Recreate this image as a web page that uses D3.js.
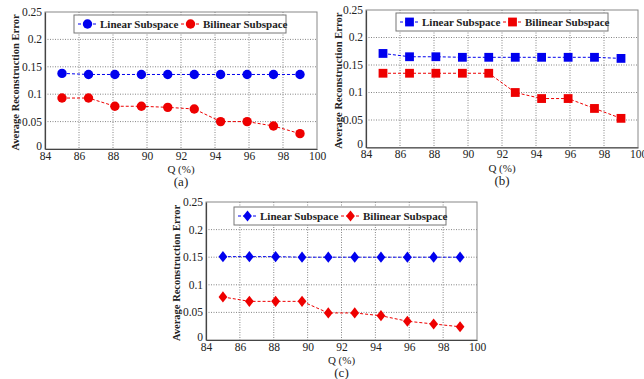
<!DOCTYPE html>
<html>
<head>
<meta charset="utf-8">
<script src="https://cdn.jsdelivr.net/npm/d3@7"></script>
<style>
  body { margin: 0; background: #fff; }
  svg { display: block; font-family: "Liberation Serif", "Times New Roman", serif; }
  text { font-family: "Liberation Serif", "Times New Roman", serif; fill: #222; }
</style>
</head>
<body>
<script>
// shared x values (Q %)
const qValues = [85, 86.56, 88.11, 89.67, 91.22, 92.78, 94.33, 95.89, 97.44, 99];
const xTicks = [84, 86, 88, 90, 92, 94, 96, 98, 100];
const yTicks = [0, 0.05, 0.1, 0.15, 0.2, 0.25];
const yTickLabels = ["0", "0.05", "0.1", "0.15", "0.2", "0.25"];
const seriesNames = ["Linear Subspace", "Bilinear Subspace"];

const linearA = [0.138, 0.136, 0.136, 0.136, 0.136, 0.136, 0.136, 0.136, 0.136, 0.136];
const bilinearA = [0.093, 0.093, 0.078, 0.078, 0.076, 0.073, 0.050, 0.050, 0.042, 0.028];

const linearB = [0.171, 0.165, 0.165, 0.164, 0.164, 0.164, 0.164, 0.164, 0.164, 0.162];
const bilinearB = [0.135, 0.135, 0.135, 0.135, 0.135, 0.100, 0.089, 0.089, 0.071, 0.053];

const linearC = [0.151, 0.151, 0.151, 0.150, 0.150, 0.150, 0.150, 0.150, 0.150, 0.150];
const bilinearC = [0.078, 0.070, 0.070, 0.070, 0.049, 0.049, 0.044, 0.034, 0.029, 0.024];

const W = 644, H = 379;
const FONT = '"Liberation Serif", "Times New Roman", serif';
const svg = d3.select('body').append('svg')
  .attr('width', W)
  .attr('height', H);

const panels = [
  {label: "(a)", left: 45, right: 317, top: 12, bottom: 149, ylabX: 15, shape: "circle", lin: linearA, bil: bilinearA, legX: 74, legY: 15},
  {label: "(b)", left: 366, right: 638, top: 10, bottom: 147.5, ylabX: 338, shape: "square", lin: linearB, bil: bilinearB, legX: 396, legY: 13},
  {label: "(c)", left: 206, right: 477, top: 202, bottom: 340, ylabX: 176, shape: "diamond", lin: linearC, bil: bilinearC, legX: 234, legY: 207}
];

function marker(g, shape, x, y, color) {
  if (shape === "circle") {
    g.append('circle').attr('cx', x).attr('cy', y).attr('r', 4.7).attr('fill', color);
  } else if (shape === "square") {
    g.append('rect').attr('x', x - 4.4).attr('y', y - 4.4).attr('width', 8.8).attr('height', 8.8).attr('fill', color);
  } else {
    g.append('path')
      .attr('d', `M${x},${y-5.6}L${x+4.4},${y}L${x},${y+5.6}L${x-4.4},${y}Z`)
      .attr('fill', color);
  }
}

panels.forEach(p => {
  const g = svg.append('g');
  const x = d3.scaleLinear().domain([84, 100]).range([p.left, p.right]);
  const y = d3.scaleLinear().domain([0, 0.25]).range([p.bottom, p.top]);

  // dotted grid
  g.selectAll('.vg').data(xTicks.slice(1, -1)).enter().append('line')
    .attr('x1', d => x(d)).attr('x2', d => x(d))
    .attr('y1', p.top).attr('y2', p.bottom)
    .attr('stroke', '#666').attr('stroke-width', 0.8).attr('stroke-dasharray', '1,1.5');
  g.selectAll('.hg').data(yTicks.slice(1, -1)).enter().append('line')
    .attr('x1', p.left).attr('x2', p.right)
    .attr('y1', d => y(d)).attr('y2', d => y(d))
    .attr('stroke', '#666').attr('stroke-width', 0.8).attr('stroke-dasharray', '1,1.5');

  // frame
  g.append('rect').attr('x', p.left).attr('y', p.top)
    .attr('width', p.right - p.left).attr('height', p.bottom - p.top)
    .attr('fill', 'none').attr('stroke', '#888').attr('stroke-width', 1);

  // axes
  const xAxis = g.append('g').attr('transform', `translate(0,${p.bottom})`)
    .call(d3.axisBottom(x).tickValues(xTicks).tickSize(0).tickPadding(4));
  const yAxis = g.append('g').attr('transform', `translate(${p.left},0)`)
    .call(d3.axisLeft(y).tickValues(yTicks).tickSize(0).tickPadding(3)
      .tickFormat((d, i) => yTickLabels[i]));
  [xAxis, yAxis].forEach(a => {
    a.attr('font-family', FONT);
    a.select('.domain').attr('stroke', '#444').attr('stroke-width', 1.2);
    a.selectAll('text').attr('font-size', 11.5).attr('fill', '#222').style('font-family', FONT);
  });
  xAxis.selectAll('text').attr('dy', '0.6em');
  yAxis.selectAll('text').attr('dy', d => d === 0 ? '0em' : '0.3em');

  // axis titles
  g.append('text').attr('x', (p.left + p.right) / 2).attr('y', p.bottom + 24)
    .attr('text-anchor', 'middle').attr('font-size', 11).style('font-family', FONT).text('Q (%)');
  g.append('text').attr('x', (p.left + p.right) / 2).attr('y', p.bottom + 37)
    .attr('text-anchor', 'middle').attr('font-size', 13).style('font-family', FONT).text(p.label);
  g.append('text')
    .attr('transform', `translate(${p.ylabX},${(p.top + p.bottom) / 2 + 2}) rotate(-90)`)
    .attr('text-anchor', 'middle').attr('dy', '0.35em')
    .attr('font-size', 10.5).attr('font-weight', 'bold').style('font-family', FONT)
    .text('Average Reconstruction Error');

  // series
  const line = d3.line().x((d, i) => x(qValues[i])).y(d => y(d));
  [[p.lin, '#0000ee'], [p.bil, '#ee0000']].forEach(([vals, col]) => {
    g.append('path').datum(vals).attr('d', line)
      .attr('fill', 'none').attr('stroke', col).attr('stroke-width', 1)
      .attr('stroke-dasharray', '3,2');
    vals.forEach((v, i) => marker(g, p.shape, x(qValues[i]), y(v), col));
  });

  // legend
  const lg = g.append('g').attr('transform', `translate(${p.legX},${p.legY})`);
  lg.append('rect').attr('width', 212).attr('height', 18)
    .attr('fill', '#fff').attr('stroke', '#777').attr('stroke-width', 1);
  [[0, '#0000ee', seriesNames[0]], [103, '#ee0000', seriesNames[1]]].forEach(([off, col, name]) => {
    lg.append('line').attr('x1', off + 4).attr('x2', off + 23).attr('y1', 9).attr('y2', 9)
      .attr('stroke', col).attr('stroke-width', 1).attr('stroke-dasharray', '3,2');
    marker(lg, p.shape, off + 13.5, 9, col);
    lg.append('text').attr('x', off + 26).attr('y', 9).attr('dy', '0.35em')
      .attr('font-size', 11).attr('font-weight', 'bold').style('font-family', FONT).text(name);
  });
});
</script>
</body>
</html>
